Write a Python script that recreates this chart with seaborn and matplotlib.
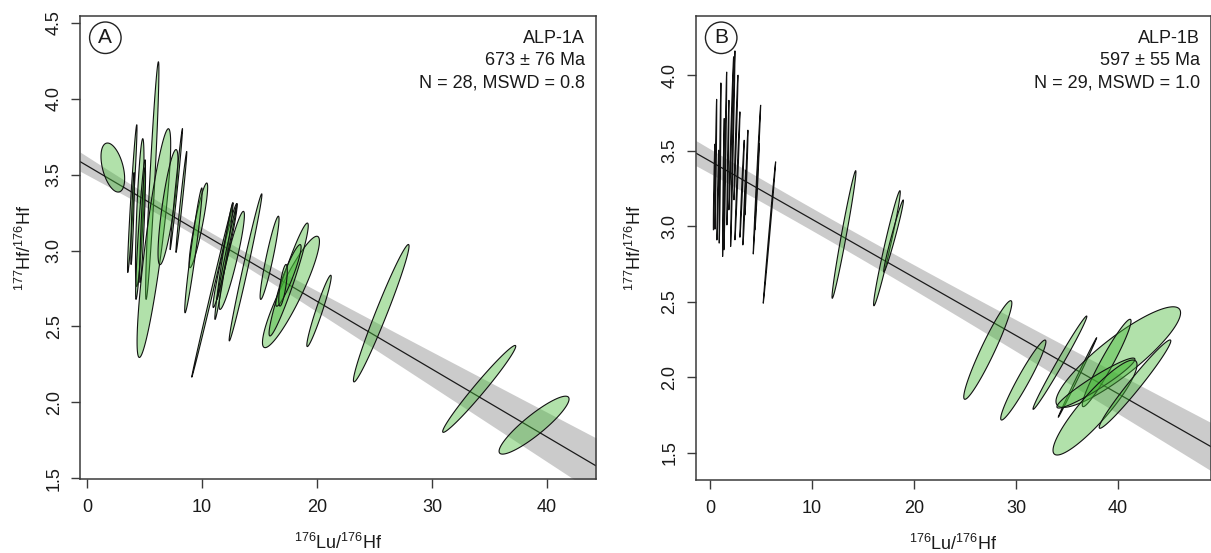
import numpy as np
import matplotlib
matplotlib.use('Agg')
import matplotlib.pyplot as plt
import seaborn as sns

# ALP-1A: 176Lu/176Hf (x), 177Hf/176Hf (y), 1 sigma errors and error correlation
a_x = [2.24, 3.93, 4.58, 5.67, 5.81, 7.04, 7.76, 8.20, 4.65, 9.68, 9.25, 10.90, 12.00, 12.58,
       11.90, 12.17, 13.78, 15.87, 17.73, 17.53, 17.51, 17.04, 20.17, 25.58, 34.10, 38.87, 3.96, 4.83]
a_sx = [0.420, 0.168, 0.151, 0.236, 0.597, 0.355, 0.221, 0.193, 0.175, 0.329, 0.310, 0.734, 0.429, 0.450,
        0.322, 0.357, 0.582, 0.336, 1.012, 0.696, 0.450, 0.151, 0.433, 0.988, 1.298, 1.243, 0.064, 0.104]
a_y = [3.547, 3.342, 3.250, 3.461, 3.049, 3.286, 3.405, 3.320, 3.138, 3.166, 3.001, 2.740, 2.967, 2.935,
       2.930, 2.993, 2.889, 2.952, 2.727, 2.809, 2.836, 2.771, 2.602, 2.587, 2.088, 1.849, 3.211, 3.168]
a_sy = [0.066, 0.199, 0.199, 0.320, 0.308, 0.155, 0.163, 0.136, 0.188, 0.114, 0.168, 0.235, 0.140, 0.132,
        0.157, 0.129, 0.198, 0.112, 0.150, 0.152, 0.083, 0.056, 0.096, 0.185, 0.117, 0.078, 0.124, 0.155]
a_rho = [-0.45, 0.95, 0.71, 0.926, 0.863, 0.8, 0.987, 0.983, 0.914, 0.90, 0.958, 0.9988, 0.969, 0.919,
         0.976, 0.995, 0.988, 0.929, 0.907, 0.952, 0.919, 0.707, 0.958, 0.976, 0.981, 0.90, 0.83, 0.857]

# ALP-1B
b_x = [0.574, 0.995, 1.324, 1.505, 2.240, 2.696, 3.152, 4.608, 5.833, 0.417, 2.093, 4.623, 1.765, 3.578,
       0.784, 2.549, 3.382, 13.14, 17.35, 18.00, 27.24, 30.72, 34.31, 36.03, 40.03, 38.89, 37.84, 37.75, 41.67]
b_sx = [0.038, 0.038, 0.036, 0.058, 0.088, 0.102, 0.088, 0.149, 0.249, 0.034, 0.096, 0.088, 0.043,
        0.063, 0.043, 0.082, 0.063, 0.479, 0.534, 0.395, 0.963, 0.905, 1.078, 0.770, 2.495, 0.977, 1.562,
        1.682, 1.434]
b_y = [3.409, 3.417, 3.255, 3.431, 3.512, 3.332, 3.247, 3.308, 2.957, 3.258, 3.614, 3.261, 3.420, 3.354,
       3.205, 3.586, 3.123, 2.944, 2.853, 2.934, 2.179, 1.980, 2.095, 1.997, 2.132, 2.093, 1.960, 1.798, 1.953]
b_sy = [0.176, 0.217, 0.187, 0.241, 0.265, 0.1736, 0.1316, 0.2016, 0.1916, 0.1163, 0.2074, 0.1173, 0.169,
        0.115, 0.1218, 0.169, 0.1015, 0.1726, 0.1556, 0.0974, 0.1334, 0.1082, 0.1262, 0.1077, 0.1361, 0.1182,
        0.0676, 0.1285, 0.1195]
b_rho = [0.9, 0.9, 0.9, 0.95, 0.98, 0.985, 0.98, 0.993, 0.997, 0.88, 0.98, 0.98, 0.92, 0.96,
         0.92, 0.975, 0.96, 0.978, 0.974, 0.979, 0.95, 0.958, 0.991, 0.9986, 0.88, 0.958, 0.95, 0.9, 0.978]

# isochron fit: intercept, slope, 95% half-widths of intercept and slope, their correlation
a_fit = [3.559, -0.0447, 0.0609, 0.0051, -0.754]
b_fit = [3.430, -0.0385, 0.0810, 0.00354, -0.404]

a_text = ['ALP-1A', '673 ± 76 Ma', 'N = 28, MSWD = 0.8']
b_text = ['ALP-1B', '597 ± 55 Ma', 'N = 29, MSWD = 1.0']

a_xticks = [0, 10, 20, 30, 40]
a_yticks = [1.5, 2.0, 2.5, 3.0, 3.5, 4.0, 4.5]
b_xticks = [0, 10, 20, 30, 40]
b_yticks = [1.5, 2.0, 2.5, 3.0, 3.5, 4.0]

xlab = r'$\mathregular{^{176}Lu/^{176}Hf}$'
ylab = r'$\mathregular{^{177}Hf/^{176}Hf}$'

K = 2.4477  # 95% confidence ellipse

sns.set_style('ticks')
plt.rcParams['font.family'] = ['Liberation Sans', 'DejaVu Sans']
plt.rcParams['mathtext.fontset'] = 'custom'
plt.rcParams['mathtext.rm'] = 'Liberation Sans'

fig = plt.figure(figsize=(12.11, 5.53), dpi=100)
ax_a = fig.add_axes([0.0661, 0.1338, 0.4261, 0.8373])
ax_b = fig.add_axes([0.5747, 0.1320, 0.4253, 0.8391])


def draw(ax, xs, sxs, ys, sys_, rhos, fit, xlim, ylim, xticks, yticks, tag, lines, ylab_x):
    a0, b0, sa, sb, rab = fit
    gx = np.linspace(xlim[0], xlim[1], 300)
    gy = a0 + b0 * gx
    hw = np.sqrt(sa ** 2 + 2 * gx * rab * sa * sb + (gx * sb) ** 2)
    ax.fill_between(gx, gy - hw, gy + hw, color='#cbcbcb', lw=0, zorder=1)
    sns.lineplot(x=gx, y=gy, ax=ax, color='#1a1a1a', lw=0.9, zorder=2)

    t = np.linspace(0, 2 * np.pi, 160)
    for x, sx, y, sy, r in zip(xs, sxs, ys, sys_, rhos):
        ex = x + K * sx * np.cos(t)
        ey = y + K * sy * (r * np.cos(t) + np.sqrt(1 - r * r) * np.sin(t))
        ax.fill(ex, ey, fc=(0.27, 0.72, 0.21, 0.42), ec='#111111', lw=0.8, zorder=3)

    ax.set_xlim(*xlim)
    ax.set_ylim(*ylim)
    ax.set_xticks(xticks)
    ax.set_yticks(yticks)
    ax.set_yticklabels([f'{v:.1f}' for v in yticks], rotation=90, va='center')
    ax.tick_params(direction='out', length=6.5, width=1, color='#3a3a3a',
                   labelsize=13, labelcolor='#1a1a1a', pad=6)
    ax.tick_params(axis='x', pad=8)
    for s in ax.spines.values():
        s.set_visible(True)
        s.set_color('#3a3a3a')
        s.set_linewidth(1.1)

    ax.set_xlabel(xlab, fontsize=13, color='#1a1a1a')
    ax.xaxis.set_label_coords(0.5, -0.117)
    ax.set_ylabel(ylab, fontsize=13, color='#1a1a1a')
    ax.yaxis.set_label_coords(ylab_x, 0.5)

    ax.text(0.049, 0.953, tag, transform=ax.transAxes, ha='center', va='center', fontsize=15,
            color='#1a1a1a', zorder=5,
            bbox=dict(boxstyle='circle,pad=0.3', fc='white', ec='#222222', lw=1))
    for i, s in enumerate(lines):
        ax.text(0.979, 0.941 - i * 0.0475, s, transform=ax.transAxes, ha='right', va='baseline',
                fontsize=13, color='#1a1a1a', zorder=5)


draw(ax_a, a_x, a_sx, a_y, a_sy, a_rho, a_fit, (-0.61, 44.26), (1.494, 4.546),
     a_xticks, a_yticks, 'A', a_text, -0.087)
draw(ax_b, b_x, b_sx, b_y, b_sy, b_rho, b_fit, (-1.37, 49.12), (1.318, 4.391),
     b_xticks, b_yticks, 'B', b_text, -0.099)

fig.savefig('out.png', dpi=100, facecolor='white')
